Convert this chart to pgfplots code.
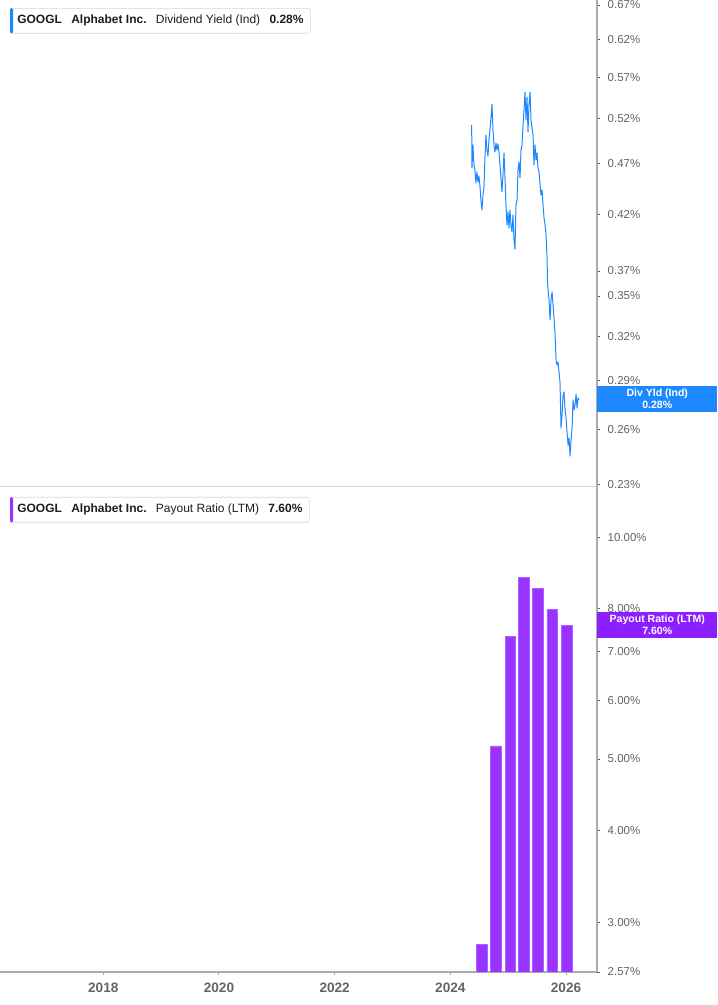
\documentclass[border=0pt]{standalone}
\usepackage{pgfplots}
\pgfplotsset{compat=1.18}
\usepackage{fontspec}
\setmainfont{Liberation Sans}

\definecolor{lineblue}{RGB}{30,136,255}
\definecolor{barpurple}{RGB}{153,51,255}
\definecolor{baredge}{RGB}{175,95,255}
\definecolor{tagpurple}{RGB}{140,30,255}
\definecolor{axisgray}{RGB}{170,170,170}
\definecolor{sepgray}{RGB}{215,215,215}
\definecolor{textgray}{RGB}{100,100,100}
\definecolor{titletext}{RGB}{30,30,30}

\begin{document}
\begin{tikzpicture}
\useasboundingbox (0pt,0pt) rectangle (537.75pt,753.75pt);

% dividend yield (top)
\begin{axis}[
  ymode=log,
  scale only axis, width=447.75pt, height=365.25pt,
  at={(0pt,388.5pt)}, anchor=south west,
  xmin=2016.214, xmax=2026.536,
  ymin=0.2285, ymax=0.6775,
  axis y line*=right, axis x line*=bottom,
  axis line style={-},
  y axis line style={draw=axisgray, line width=1.5pt},
  x axis line style={draw=sepgray, line width=0.75pt},
  tick align=outside, major tick length=2.5pt,
  ytick style={draw=textgray, line width=0.6pt},
  yticklabel style={font=\fontsize{8.6}{10}\selectfont, text=textgray, xshift=2pt},
  xtick=\empty,
  ytick={0.23,0.26,0.29,0.32,0.35,0.37,0.42,0.47,0.52,0.57,0.62,0.67},
  yticklabels={0.23\%,0.26\%,0.29\%,0.32\%,0.35\%,0.37\%,0.42\%,0.47\%,0.52\%,0.57\%,0.62\%,0.67\%},
]
\addplot[lineblue, line width=0.75pt, line join=round] coordinates {
(2024.369,0.5126) (2024.374,0.4657) (2024.391,0.4902) (2024.408,0.4688) (2024.426,0.4636)
(2024.443,0.4503) (2024.460,0.4615) (2024.478,0.4513) (2024.495,0.4574) (2024.512,0.4473)
(2024.529,0.4335) (2024.547,0.4240) (2024.564,0.4384) (2024.581,0.4453) (2024.599,0.4762)
(2024.616,0.5012) (2024.633,0.4847) (2024.651,0.4783) (2024.668,0.4957) (2024.685,0.5069)
(2024.703,0.5207) (2024.720,0.5371) (2024.737,0.5069) (2024.754,0.4902) (2024.772,0.4826)
(2024.789,0.4924) (2024.806,0.4847) (2024.824,0.4913) (2024.841,0.4826) (2024.858,0.4688)
(2024.876,0.4554) (2024.893,0.4414) (2024.910,0.4584) (2024.928,0.4815) (2024.945,0.4554)
(2024.962,0.4287) (2024.980,0.4100) (2024.997,0.4221) (2025.014,0.4073) (2025.031,0.4240)
(2025.049,0.4100) (2025.066,0.4037) (2025.083,0.4193) (2025.101,0.3965) (2025.118,0.3886)
(2025.135,0.4287) (2025.153,0.4335) (2025.170,0.4636) (2025.187,0.4720) (2025.205,0.4554)
(2025.222,0.4847) (2025.239,0.4902) (2025.257,0.5126) (2025.274,0.5300) (2025.291,0.5517)
(2025.309,0.5183) (2025.326,0.5456) (2025.343,0.5046) (2025.360,0.5360) (2025.378,0.5517)
(2025.395,0.5183) (2025.412,0.5091) (2025.430,0.5012) (2025.447,0.4688) (2025.464,0.4902)
(2025.482,0.4740) (2025.499,0.4815) (2025.516,0.4657) (2025.534,0.4615) (2025.551,0.4483)
(2025.568,0.4384) (2025.586,0.4434) (2025.603,0.4287) (2025.620,0.4165) (2025.638,0.4100)
(2025.655,0.4010) (2025.672,0.3809) (2025.681,0.3602) (2025.690,0.3546) (2025.707,0.3468)
(2025.724,0.3317) (2025.741,0.3468) (2025.759,0.3531) (2025.776,0.3430) (2025.793,0.3331)
(2025.811,0.3208) (2025.828,0.3034) (2025.845,0.3000) (2025.862,0.3020) (2025.880,0.2953)
(2025.897,0.2882) (2025.914,0.2606) (2025.932,0.2683) (2025.949,0.2806) (2025.966,0.2825)
(2025.984,0.2714) (2026.001,0.2665) (2026.018,0.2583) (2026.036,0.2509) (2026.053,0.2549)
(2026.070,0.2448) (2026.087,0.2537) (2026.105,0.2606) (2026.122,0.2775) (2026.139,0.2714)
(2026.157,0.2744) (2026.174,0.2812) (2026.191,0.2725) (2026.208,0.2787) (2026.226,0.2775)
};
\end{axis}

% payout ratio (bottom)
\begin{axis}[
  ymode=log,
  scale only axis, width=447.75pt, height=363.75pt,
  at={(0pt,24.75pt)}, anchor=south west,
  xmin=2016.214, xmax=2026.536,
  ymin=2.57, ymax=11.70,
  axis y line*=right, axis x line*=bottom,
  axis line style={-},
  y axis line style={draw=axisgray, line width=1.5pt},
  x axis line style={draw=axisgray, line width=1.5pt},
  tick align=outside, major tick length=2.5pt,
  ytick style={draw=textgray, line width=0.6pt},
  yticklabel style={font=\fontsize{8.6}{10}\selectfont, text=textgray, xshift=2pt},
  xtick={2018,2020,2022,2024,2026},
  xticklabels={2018,2020,2022,2024,2026},
  xtick style={draw=axisgray, line width=0.75pt},
  xticklabel style={font=\bfseries\fontsize{10.2}{11}\selectfont, text=textgray, yshift=-2pt},
  ytick={2.57,3,4,5,6,7,8,10},
  yticklabels={2.57\%,3.00\%,4.00\%,5.00\%,6.00\%,7.00\%,8.00\%,10.00\%},
]
\addplot[ybar, bar width=7.9pt, fill=barpurple, draw=baredge, line width=0.4pt] coordinates {
(2024.539,2.80) (2024.789,5.21) (2025.040,7.34) (2025.274,8.82)
(2025.516,8.52) (2025.759,7.99) (2026.009,7.60)
};
\end{axis}

% right-side value tags
\node[fill=lineblue, text=white, anchor=west, inner sep=0pt,
      minimum width=90pt, minimum height=19.9pt, align=center,
      font=\bfseries\fontsize{7.9}{8.8}\selectfont] at (447.75pt,454.5pt) {Div Yld (Ind)\\0.28\%};
\node[fill=tagpurple, text=white, anchor=west, inner sep=0pt,
      minimum width=90pt, minimum height=19.9pt, align=center,
      font=\bfseries\fontsize{7.9}{8.8}\selectfont] at (447.75pt,285pt) {Payout Ratio (LTM)\\7.60\%};

% panel titles
\node[draw=sepgray, fill=white, rounded corners=2pt, anchor=north west,
      minimum height=18.75pt, inner xsep=5.25pt, inner ysep=0pt, text=titletext,
      font=\fontsize{9}{10}\selectfont] (t1) at (7.5pt,747.75pt)
  {\textbf{GOOGL}\hspace{7pt}\textbf{Alphabet Inc.}\hspace{7pt}Dividend Yield (Ind)\hspace{7pt}\textbf{0.28\%}};
\fill[lineblue, rounded corners=1pt] (t1.north west) rectangle ([xshift=2.25pt]t1.south west);
\node[draw=sepgray, fill=white, rounded corners=2pt, anchor=north west,
      minimum height=18.75pt, inner xsep=5.25pt, inner ysep=0pt, text=titletext,
      font=\fontsize{9}{10}\selectfont] (t2) at (7.5pt,381pt)
  {\textbf{GOOGL}\hspace{7pt}\textbf{Alphabet Inc.}\hspace{7pt}Payout Ratio (LTM)\hspace{7pt}\textbf{7.60\%}};
\fill[barpurple, rounded corners=1pt] (t2.north west) rectangle ([xshift=2.25pt]t2.south west);
\end{tikzpicture}
\end{document}
